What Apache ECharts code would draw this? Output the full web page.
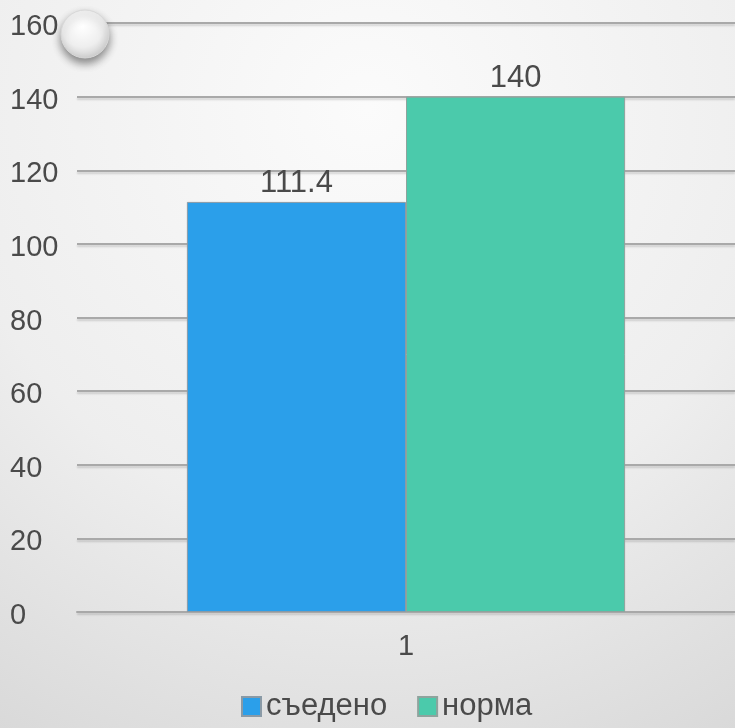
<!DOCTYPE html>
<html>
<head>
<meta charset="utf-8">
<script src="https://cdn.jsdelivr.net/npm/echarts@6/dist/echarts.min.js"></script>
<style>
  html, body { margin: 0; padding: 0; }
  #chart { width: 735px; height: 728px; }
</style>
</head>
<body>
<div id="chart"></div>
<script>
// Категории и стойности
const categories = ['1'];
const seriesNames = ['съедено', 'норма'];
const eatenValues = [111.4];
const normValues = [140];
const yTicks = { min: 0, max: 160, interval: 20 };

const colors = ['#2b9fea', '#4bcaab'];
const textColor = '#4a4a4a';
const fontFamily = '"Liberation Sans", Arial, sans-serif';

const chart = echarts.init(document.getElementById('chart'));

chart.setOption({
  backgroundColor: {
    type: 'radial', x: 0.5, y: 0.15, r: 1.05,
    colorStops: [
      { offset: 0, color: '#fbfbfb' },
      { offset: 0.55, color: '#eeeeee' },
      { offset: 1, color: '#d6d6d6' }
    ]
  },
  textStyle: { fontFamily: fontFamily },
  grid: { left: 77, right: 0, top: 23, bottom: 116 },
  legend: {
    bottom: 1,
    left: 236,
    itemWidth: 19,
    itemHeight: 19,
    itemGap: 30,
    icon: 'rect',
    textStyle: { fontSize: 31, color: textColor, fontFamily: fontFamily },
    data: seriesNames
  },
  xAxis: {
    type: 'category',
    data: categories,
    axisLine: { show: true, lineStyle: { color: '#a8a8a8', width: 2 } },
    axisTick: { show: false },
    axisLabel: { fontSize: 29, color: textColor, margin: 20 }
  },
  yAxis: {
    type: 'value',
    min: yTicks.min,
    max: yTicks.max,
    interval: yTicks.interval,
    axisLine: { show: false },
    axisTick: { show: false },
    axisLabel: {
      color: textColor, align: 'left', margin: 67,
      formatter: '{v|{value}}',
      rich: { v: { fontSize: 29, color: textColor, fontFamily: fontFamily, padding: [8, 0, 0, 0] } }
    },
    splitLine: {
      lineStyle: {
        color: '#a9a9a9', width: 2,
        shadowColor: 'rgba(0,0,0,0.15)', shadowOffsetY: 2, shadowBlur: 2
      }
    }
  },
  series: [
    {
      name: seriesNames[0],
      type: 'bar',
      data: eatenValues,
      barGap: 0,
      barCategoryGap: '33.4%',
      itemStyle: { color: colors[0], borderColor: '#8a9aa6', borderWidth: 1 },
      label: { show: true, position: 'top', distance: 3, fontSize: 31, color: textColor }
    },
    {
      name: seriesNames[1],
      type: 'bar',
      data: normValues,
      itemStyle: { color: colors[1], borderColor: '#8fa39d', borderWidth: 1 },
      label: { show: true, position: 'top', distance: 3, fontSize: 31, color: textColor }
    }
  ],
  graphic: [
    {
      // глянцева декоративна топка в горния ляв ъгъл
      type: 'circle',
      shape: { cx: 85, cy: 34, r: 24 },
      z: 100,
      style: {
        fill: {
          type: 'radial', x: 0.45, y: 0.35, r: 0.7,
          colorStops: [
            { offset: 0, color: '#ffffff' },
            { offset: 0.6, color: '#eeeeee' },
            { offset: 1, color: '#c8c8c8' }
          ]
        },
        stroke: '#d8d8d8',
        lineWidth: 1,
        shadowColor: 'rgba(0,0,0,0.45)',
        shadowBlur: 8,
        shadowOffsetY: 5
      }
    }
  ]
});
</script>
</body>
</html>
